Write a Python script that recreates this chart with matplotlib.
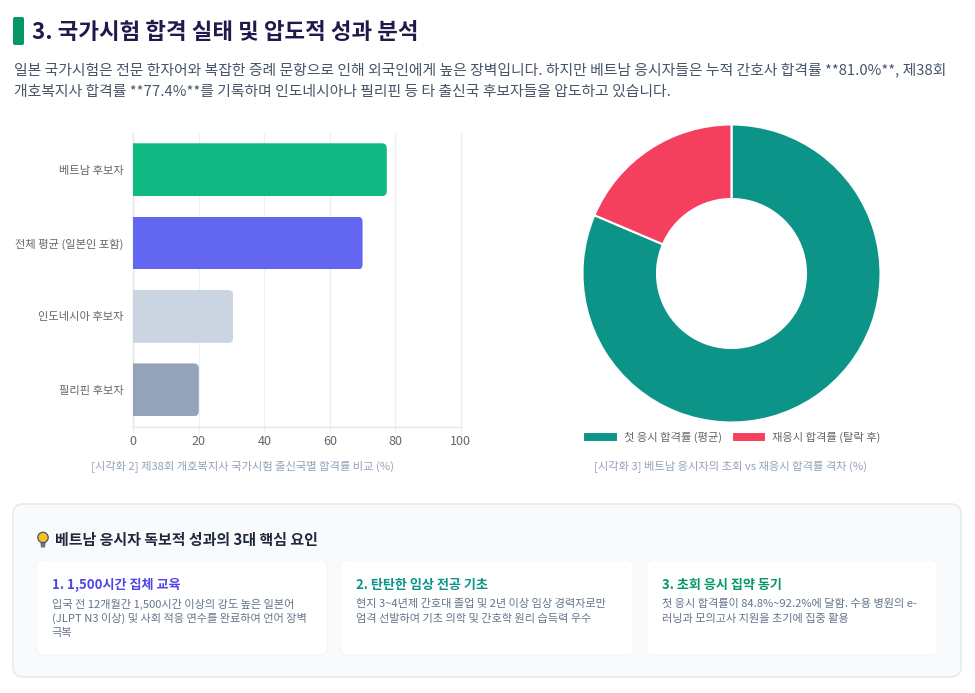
import matplotlib
matplotlib.use("Agg")
import matplotlib.pyplot as plt
from matplotlib.patches import FancyBboxPatch, Circle, Polygon, Rectangle

plt.rcParams['font.family'] = ['Noto Sans CJK KR', 'DejaVu Sans']

# ---- data
heading = "3. 국가시험 합격 실태 및 압도적 성과 분석"
intro = ["일본 국가시험은 전문 한자어와 복잡한 증례 문항으로 인해 외국인에게 높은 장벽입니다. 하지만 베트남 응시자들은 누적 간호사 합격률 **81.0%**, 제38회",
         "개호복지사 합격률 **77.4%**를 기록하며 인도네시아나 필리핀 등 타 출신국 후보자들을 압도하고 있습니다."]
bar_labels = ["베트남 후보자", "전체 평균 (일본인 포함)", "인도네시아 후보자", "필리핀 후보자"]
bar_values = [77.4, 70.0, 30.5, 20.0]
bar_colors = ["#10b981", "#6366f1", "#cbd5e1", "#94a3b8"]
bar_ticks = [0, 20, 40, 60, 80, 100]
bar_caption = "[시각화 2] 제38회 개호복지사 국가시험 출신국별 합격률 비교 (%)"
donut_labels = ["첫 응시 합격률 (평균)", "재응시 합격률 (탈락 후)"]
donut_values = [81.4, 18.6]
donut_colors = ["#0d9488", "#f43f5e"]
donut_caption = "[시각화 3] 베트남 응시자의 초회 vs 재응시 합격률 격차 (%)"
panel_title = "베트남 응시자 독보적 성과의 3대 핵심 요인"
card_titles = ["1. 1,500시간 집체 교육", "2. 탄탄한 임상 전공 기초", "3. 초회 응시 집약 동기"]
card_colors = ["#4f46e5", "#0d9488", "#059669"]
card_bodies = [
    ["입국 전 12개월간 1,500시간 이상의 강도 높은 일본어", "(JLPT N3 이상) 및 사회 적응 연수를 완료하여 언어 장벽", "극복"],
    ["현지 3~4년제 간호대 졸업 및 2년 이상 임상 경력자로만", "엄격 선발하여 기초 의학 및 간호학 원리 습득력 우수"],
    ["첫 응시 합격률이 84.8%~92.2%에 달함. 수용 병원의 e-", "러닝과 모의고사 지원을 초기에 집중 활용"],
]

W, H = 975, 693
fig = plt.figure(figsize=(W / 100, H / 100), dpi=100, facecolor="white")

def axrect(x0, y0, x1, y1):
    return [x0 / W, 1 - y1 / H, (x1 - x0) / W, (y1 - y0) / H]

# page layer, in pixel coordinates
bg = fig.add_axes([0, 0, 1, 1], zorder=0)
bg.set_xlim(0, W); bg.set_ylim(H, 0); bg.axis("off")

def rbox(x0, y0, x1, y1, r, fc, ec="none", lw=0, z=1):
    bg.add_patch(FancyBboxPatch((x0, y0), x1 - x0, y1 - y0,
                                boxstyle=f"round,pad=0,rounding_size={r}",
                                fc=fc, ec=ec, lw=lw, zorder=z))

rbox(13, 17, 24, 45, 2, "#059669")
bg.text(32, 32.5, heading, fontsize=16.1, fontweight="bold", color="#1e1b4b", va="center", ha="left")
bg.text(14, 69.5, intro[0], fontsize=10.7, color="#475569", va="center", ha="left")
bg.text(14, 91.5, intro[1], fontsize=10.7, color="#475569", va="center", ha="left")

bg.text(242.5, 467, bar_caption, fontsize=8.15, color="#94a3b8", va="center", ha="center")
bg.text(731, 467, donut_caption, fontsize=8.15, color="#94a3b8", va="center", ha="center")

# bottom panel
rbox(13, 504, 961, 677, 10, "#f8fafc", "#e2e8f0", 1)
bg.add_patch(Circle((43, 537.5), 5.2, fc="#fbbf24", ec="#475569", lw=0.9, zorder=3))
bg.add_patch(Polygon([(40.2, 541), (45.8, 541), (45, 547.5), (41, 547.5)], fc="#64748b", ec="none", zorder=2.9))
bg.text(55, 539.5, panel_title, fontsize=10.75, fontweight="bold", color="#1e293b", va="center", ha="left")

card_x = [(37, 327), (341, 633), (647, 937)]
for (x0, x1), t, c, body in zip(card_x, card_titles, card_colors, card_bodies):
    rbox(x0, 560, x1, 655, 6, "white", "#f1f5f9", 0.6, z=2)
    bg.text(x0 + 14.5, 585, t, fontsize=9.45, fontweight="bold", color=c, va="center", ha="left", zorder=3)
    for i, line in enumerate(body):
        bg.text(x0 + 14.5, 604 + i * 14.7, line, fontsize=8.06, color="#64748b", va="center", ha="left", zorder=3)

# bar chart
ax = fig.add_axes(axrect(133.3, 133, 460.8, 426.5), zorder=1)
ax.patch.set_alpha(0)
ypos = list(range(len(bar_labels)))
bars = ax.barh(ypos, bar_values, height=0.72, color=bar_colors, zorder=2)
ax.set_xlim(0, 100); ax.set_ylim(len(bar_labels) - 0.5, -0.5)
xs = 327.5 / 100; ys = 293.5 / 4
for b in bars:
    r = 5.0
    clip = FancyBboxPatch((-10, b.get_y()), b.get_width() + 10, b.get_height(),
                          boxstyle=f"round,pad=0,rounding_size={r / xs}",
                          mutation_aspect=(r / ys) / (r / xs), transform=ax.transData)
    b.set_clip_path(clip)
ax.set_yticks(ypos, bar_labels)
ax.set_xticks(bar_ticks)
ax.tick_params(axis="y", length=0, pad=7, labelsize=8.1, labelcolor="#666666")
ax.tick_params(axis="x", length=4, width=1, color="#edf0f4", pad=2.2, labelsize=9, labelcolor="#666666")
ax.grid(axis="x", color="#edf0f4", lw=1, zorder=0, clip_on=False)
ax.set_axisbelow(True)
for s in ["top", "right"]:
    ax.spines[s].set_visible(False)
for s in ["left", "bottom"]:
    ax.spines[s].set_color("#e5e7eb"); ax.spines[s].set_linewidth(1); ax.spines[s].set_zorder(1)

# donut
R = 149
cx, cy = 731.5, 273.5
ax2 = fig.add_axes(axrect(cx - R, cy - R, cx + R, cy + R), zorder=1)
wedges, _ = ax2.pie(donut_values, colors=donut_colors, startangle=90, counterclock=False, radius=1.0,
                    wedgeprops=dict(width=0.5, edgecolor="white", linewidth=1.5))
ax2.set_xlim(-1, 1); ax2.set_ylim(-1, 1)
for w in wedges:
    w.set_clip_on(False)
fig.legend(wedges, donut_labels, loc="center", bbox_to_anchor=(732 / W, 1 - 437.5 / H), ncol=2, frameon=False,
           fontsize=8.15, labelcolor="#666666", handlelength=3.05, handleheight=0.9, handletextpad=0.52, columnspacing=0.87,
           borderpad=0, borderaxespad=0)

fig.savefig("out.png", dpi=100)
